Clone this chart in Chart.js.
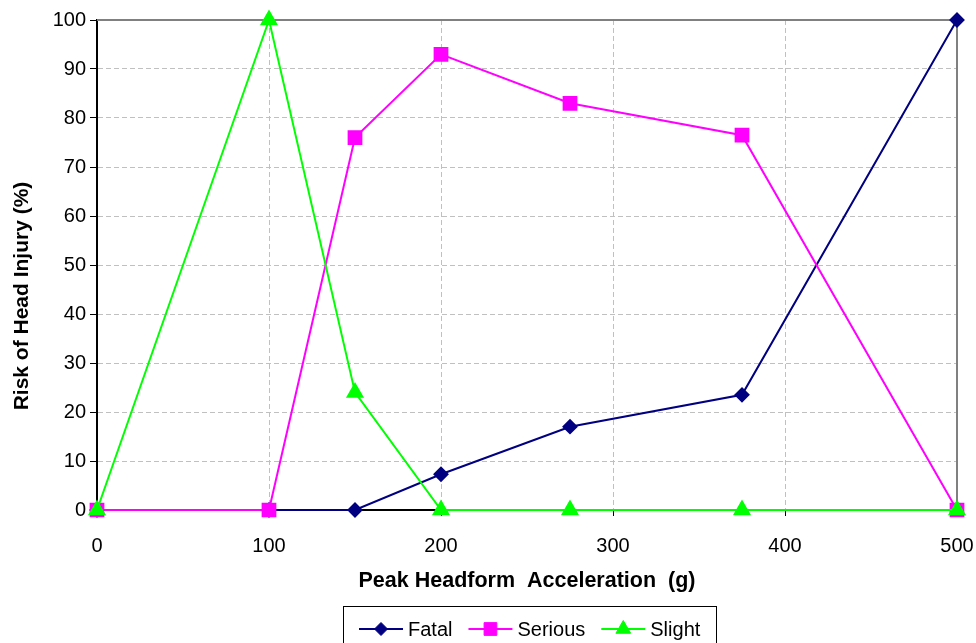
<!DOCTYPE html>
<html>
<head>
<meta charset="utf-8">
<script src="https://cdn.jsdelivr.net/npm/chart.js@4"></script>
<style>
  html, body { margin: 0; padding: 0; background: #fff; }
  #wrap { width: 976px; height: 643px; }
</style>
</head>
<body>
<div id="wrap"><canvas id="chart" width="976" height="643"></canvas></div>
<script>
// Peak headform acceleration (g) vs risk of head injury (%)
const accel   = [0, 100, 150, 200, 275, 375, 500];
const fatal   = [0, 0, 0, 7.3, 17, 23.5, 100];
const serious = [0, 0, 76, 93, 83, 76.5, 0];
const slight  = [0, 100, 24, 0, 0, 0, 0];

const seriesNames = ['Fatal', 'Serious', 'Slight'];
const xTitle = 'Peak Headform  Acceleration  (g)';
const yTitle = 'Risk of Head Injury (%)';

const FONT = 'Arial, "Liberation Sans", sans-serif';

const pts = vals => accel.map((x, i) => ({ x: x, y: vals[i] }));

// solid grey frame on the top and right edges of the plot
const frame = {
  id: 'frame',
  beforeDatasetsDraw(chart) {
    const { ctx, chartArea: a } = chart;
    ctx.save();
    ctx.strokeStyle = '#808080';
    ctx.lineWidth = 2;
    ctx.beginPath();
    ctx.moveTo(a.left, a.top);
    ctx.lineTo(a.right, a.top);
    ctx.lineTo(a.right, a.bottom);
    ctx.stroke();
    ctx.restore();
  }
};

// rotated y-axis title, sits a little below the plot middle
const yLabel = {
  id: 'yLabel',
  afterDraw(chart) {
    const ctx = chart.ctx;
    ctx.save();
    ctx.translate(22, 296);
    ctx.rotate(-Math.PI / 2);
    ctx.font = 'bold 21px ' + FONT;
    ctx.fillStyle = '#000';
    ctx.textAlign = 'center';
    ctx.textBaseline = 'middle';
    ctx.fillText(yTitle, 0, 0);
    ctx.restore();
  }
};

// boxed legend with line + marker samples
const boxLegend = {
  id: 'boxLegend',
  afterDraw(chart) {
    const ctx = chart.ctx;
    ctx.save();
    ctx.strokeStyle = '#000';
    ctx.lineWidth = 1;
    ctx.strokeRect(343.5, 606.5, 373, 50);
    ctx.font = '20px ' + FONT;
    ctx.textBaseline = 'middle';
    let x = 359;
    const y = 629;
    chart.data.datasets.forEach(ds => {
      ctx.strokeStyle = ds.borderColor;
      ctx.fillStyle = ds.borderColor;
      ctx.lineWidth = 2;
      ctx.beginPath();
      ctx.moveTo(x, y);
      ctx.lineTo(x + 44, y);
      ctx.stroke();
      ctx.lineWidth = 1;
      Chart.helpers.drawPoint(ctx, {
        pointStyle: ds.pointStyle, radius: ds.pointRadius, borderWidth: 1, rotation: 0
      }, x + 22, y);
      ctx.fillStyle = '#000';
      ctx.fillText(ds.label, x + 49, y + 1);
      x += 49 + ctx.measureText(ds.label).width + 16;
    });
    ctx.restore();
  }
};

const mkSet = (label, vals, color, style, r, order) => ({
  label: label,
  data: pts(vals),
  borderColor: color,
  backgroundColor: color,
  pointBackgroundColor: color,
  pointBorderColor: color,
  borderWidth: 2,
  pointStyle: style,
  pointRadius: r,
  pointHoverRadius: r,
  tension: 0,
  clip: false,
  order: order
});

new Chart(document.getElementById('chart'), {
  type: 'line',
  data: {
    datasets: [
      mkSet(seriesNames[0], fatal, '#000080', 'rectRot', 6.5, 3),
      mkSet(seriesNames[1], serious, '#FF00FF', 'rect', 9, 2),
      mkSet(seriesNames[2], slight, '#00FF00', 'triangle', 8.5, 1)
    ]
  },
  options: {
    responsive: false,
    animation: false,
    layout: { padding: { top: 20, right: 19, bottom: 49, left: 0 } },
    plugins: {
      legend: { display: false },
      tooltip: { enabled: false }
    },
    scales: {
      x: {
        type: 'linear',
        min: 0,
        max: 500,
        afterFit: s => { s.height = 84; s.paddingLeft = 0; s.paddingRight = 0; },
        ticks: { stepSize: 100, color: '#000', padding: 18, font: { family: FONT, size: 20 } },
        grid: { color: '#c0c0c0', lineWidth: 1, tickLength: 6, tickColor: '#000', tickWidth: 1 },
        border: { color: '#000', width: 2, dash: [5, 3] },
        title: {
          display: true, text: xTitle, color: '#000',
          padding: { top: 0, bottom: 0 },
          font: { family: FONT, size: 21.5, weight: 'bold' }
        }
      },
      y: {
        min: 0,
        max: 100,
        afterFit: s => { s.width = 97; s.paddingTop = 0; s.paddingBottom = 0; },
        ticks: { stepSize: 10, color: '#000', padding: 4, font: { family: FONT, size: 20 } },
        grid: { color: '#c0c0c0', lineWidth: 1, tickLength: 7, tickColor: '#000', tickWidth: 1 },
        border: { color: '#000', width: 2, dash: [5, 3] }
      }
    }
  },
  plugins: [frame, yLabel, boxLegend]
});
</script>
</body>
</html>
